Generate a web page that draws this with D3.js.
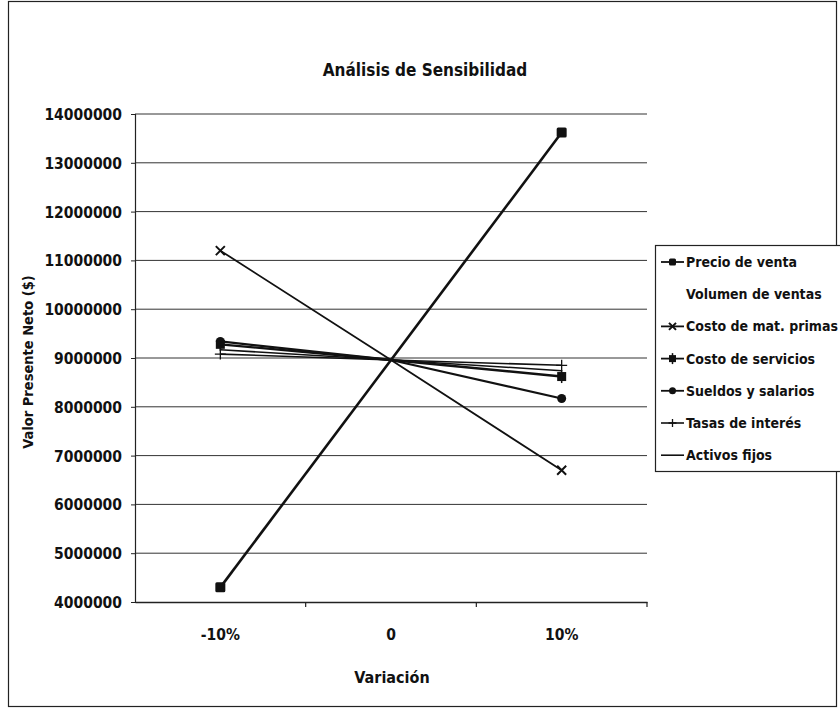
<!DOCTYPE html>
<html><head><meta charset="utf-8">
<script src="https://cdn.jsdelivr.net/npm/d3@7"></script>
<style>
body{margin:0;background:#fff;}
text{font-family:"DejaVu Sans Condensed","DejaVu Sans",sans-serif;font-stretch:condensed;font-weight:bold;fill:#111;}
</style></head>
<body>
<svg id="c" width="840" height="711"></svg>
<script>
const categories = ["-10%", "0", "10%"];
const seriesNames = ["Precio de venta","Volumen de ventas","Costo de mat. primas","Costo de servicios","Sueldos y salarios","Tasas de interés","Activos fijos"];
const precioVenta    = [4300000, 8960000, 13620000];
const volumenVentas  = [8960000, 8960000, 8960000];
const costoMatPrimas = [11200000, 8960000, 6700000];
const costoServicios = [9280000, 8960000, 8620000];
const sueldos        = [9340000, 8960000, 8170000];
const tasasInteres   = [9080000, 8960000, 8850000];
const activosFijos   = [9170000, 8960000, 8740000];
const yTicks = [4000000,5000000,6000000,7000000,8000000,9000000,10000000,11000000,12000000,13000000,14000000];
const title = "Análisis de Sensibilidad";
const xTitle = "Variación";
const yTitle = "Valor Presente Neto ($)";

const seriesValues = [precioVenta, volumenVentas, costoMatPrimas, costoServicios, sueldos, tasasInteres, activosFijos];
const markers = ["square","none","x","starbox","circle","plus","none"];
const visible = [true,false,true,true,true,true,true];
const widths = [2.6,0,1.8,2.4,2.2,1.6,1.6];

const svg = d3.select("#c");
const L=135, R=647, T=114, B=602;

// outer frame
svg.append("rect").attr("x",8.5).attr("y",1.5).attr("width",828).attr("height",705)
  .attr("fill","none").attr("stroke","#222").attr("stroke-width",1.2);

const x = d3.scaleBand().domain(categories).range([L,R]).padding(0);
const y = d3.scaleLinear().domain([4000000,14000000]).range([B,T]);

// gridlines
svg.append("g").selectAll("line").data(yTicks.filter(d=>d>4000000)).join("line")
  .attr("x1",L).attr("x2",R).attr("y1",d=>y(d)).attr("y2",d=>y(d))
  .attr("stroke","#333").attr("stroke-width",1);

// y axis
const ya = svg.append("g").attr("transform",`translate(${L},0)`)
  .call(d3.axisLeft(y).tickValues(yTicks).tickFormat(d3.format("d")).tickSize(4).tickPadding(9));
ya.select(".domain").attr("stroke","#222").attr("stroke-width",1.2);
ya.selectAll(".tick line").attr("stroke","#222");
ya.selectAll("text").style("font-size","15.5px").attr("fill","#111").attr("dy","0.35em");

// x axis
const xa = svg.append("g").attr("transform",`translate(0,${B})`)
  .call(d3.axisBottom(x).tickSize(0).tickPadding(27));
xa.select(".domain").attr("stroke","#222").attr("stroke-width",1.4);
xa.selectAll("text").style("font-size","15.5px").attr("fill","#111");
// tick marks between categories
svg.append("g").selectAll("line").data(categories).join("line")
  .attr("x1",d=>x(d)+x.bandwidth()).attr("x2",d=>x(d)+x.bandwidth())
  .attr("y1",B).attr("y2",B+5).attr("stroke","#222").attr("stroke-width",1.2);

// titles
svg.append("text").attr("x",425).attr("y",76).attr("text-anchor","middle").style("font-size","17px").text(title);
svg.append("text").attr("x",392).attr("y",683).attr("text-anchor","middle").style("font-size","16px").text(xTitle);
svg.append("text").attr("transform","translate(33,362) rotate(-90)").attr("text-anchor","middle").style("font-size","14.5px").text(yTitle);

function drawMarker(g, type, cx, cy, s){
  if(type==="square"){
    g.append("rect").attr("x",cx-s/2).attr("y",cy-s/2).attr("width",s).attr("height",s).attr("rx",1.5).attr("fill","#111");
  } else if(type==="x"){
    const h=s/2;
    g.append("path").attr("d",`M${cx-h},${cy-h}L${cx+h},${cy+h}M${cx-h},${cy+h}L${cx+h},${cy-h}`).attr("stroke","#111").attr("stroke-width",2).attr("fill","none");
  } else if(type==="starbox"){
    const h=s/2;
    g.append("rect").attr("x",cx-h).attr("y",cy-h).attr("width",s).attr("height",s).attr("fill","#111");
    g.append("path").attr("d",`M${cx},${cy-h-2}L${cx},${cy+h+2}`).attr("stroke","#111").attr("stroke-width",1.5);
  } else if(type==="circle"){
    g.append("circle").attr("cx",cx).attr("cy",cy).attr("r",s/2).attr("fill","#111");
  } else if(type==="plus"){
    const h=s/2+1;
    g.append("path").attr("d",`M${cx-h},${cy}L${cx+h},${cy}M${cx},${cy-h}L${cx},${cy+h}`).attr("stroke","#111").attr("stroke-width",1.3).attr("fill","none");
  }
}

const line = d3.line().x((d,i)=>x(categories[i])+x.bandwidth()/2).y(d=>y(d));
const plot = svg.append("g");
const order = [6,5,3,4,1,2,0];
order.forEach(si=>{
  const vals = seriesValues[si];
  if(!visible[si]) {
    plot.append("path").datum(vals).attr("d",line).attr("fill","none").attr("stroke","none");
    return;
  }
  plot.append("path").datum(vals).attr("d",line).attr("fill","none")
    .attr("stroke","#111").attr("stroke-width",widths[si]).attr("stroke-linejoin","round");
  const g = plot.append("g");
  vals.forEach((v,i)=>{
    if(i===1) return;
    drawMarker(g, markers[si], x(categories[i])+x.bandwidth()/2, y(v), si===0?10:9);
  });
});

// legend
const lg = svg.append("g");
lg.append("rect").attr("x",655.5).attr("y",245.5).attr("width",190).attr("height",226)
  .attr("fill","#fff").attr("stroke","#222").attr("stroke-width",1.2);
seriesNames.forEach((n,i)=>{
  const yy = 262 + i*32.2;
  if(visible[i]){
    lg.append("line").attr("x1",661).attr("x2",684).attr("y1",yy).attr("y2",yy).attr("stroke","#111").attr("stroke-width",Math.min(widths[i],1.8));
    drawMarker(lg, markers[i], 672.5, yy, i===5?6:7);
  }
  lg.append("text").attr("x",686).attr("y",yy).attr("dy","0.36em").style("font-size","14px").text(n);
});
</script>
</body></html>
